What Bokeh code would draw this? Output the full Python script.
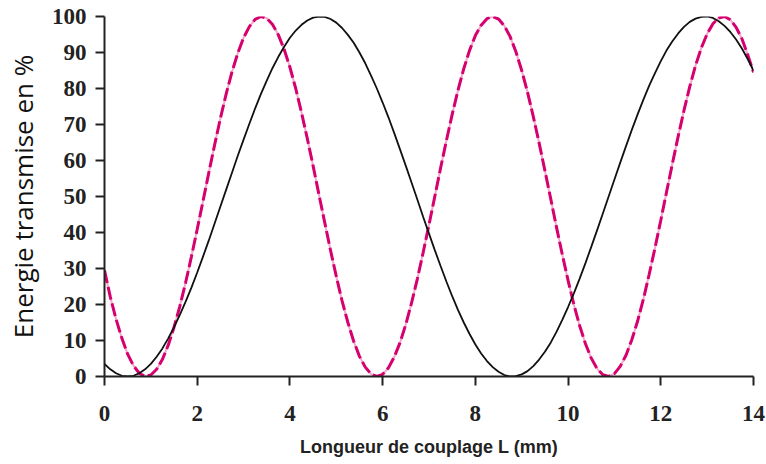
from bokeh.plotting import figure
from bokeh.models import Range1d, FixedTicker
from bokeh.embed import file_html
from bokeh.resources import INLINE

# Longueur de couplage L (mm)
L_mm = [0.0, 0.125, 0.25, 0.375, 0.5, 0.625, 0.75, 0.875, 1.0, 1.125, 1.25, 1.375, 1.5, 1.625, 1.75, 1.875,
        2.0, 2.125, 2.25, 2.375, 2.5, 2.625, 2.75, 2.875, 3.0, 3.125, 3.25, 3.375, 3.5, 3.625, 3.75, 3.875,
        4.0, 4.125, 4.25, 4.375, 4.5, 4.625, 4.75, 4.875, 5.0, 5.125, 5.25, 5.375, 5.5, 5.625, 5.75, 5.875,
        6.0, 6.125, 6.25, 6.375, 6.5, 6.625, 6.75, 6.875, 7.0, 7.125, 7.25, 7.375, 7.5, 7.625, 7.75, 7.875,
        8.0, 8.125, 8.25, 8.375, 8.5, 8.625, 8.75, 8.875, 9.0, 9.125, 9.25, 9.375, 9.5, 9.625, 9.75, 9.875,
        10.0, 10.125, 10.25, 10.375, 10.5, 10.625, 10.75, 10.875, 11.0, 11.125, 11.25, 11.375, 11.5, 11.625,
        11.75, 11.875, 12.0, 12.125, 12.25, 12.375, 12.5, 12.625, 12.75, 12.875, 13.0, 13.125, 13.25, 13.375,
        13.5, 13.625, 13.75, 13.875, 14.0]

# black solid curve (%)
energie_noir = [3.5, 2.0, 0.9, 0.2, 0.0, 0.2, 0.9, 2.0, 3.5, 5.5, 7.8, 10.6, 13.7, 17.1, 20.8, 24.7,
                28.9, 33.3, 37.8, 42.5, 47.2, 51.9, 56.6, 61.3, 65.8, 70.2, 74.5, 78.5, 82.2, 85.7, 88.8, 91.6,
                94.1, 96.1, 97.7, 98.9, 99.7, 100.0, 99.9, 99.3, 98.3, 96.8, 94.9, 92.7, 90.0, 87.0, 83.6, 80.0,
                76.1, 72.0, 67.6, 63.1, 58.5, 53.8, 49.1, 44.3, 39.7, 35.1, 30.7, 26.4, 22.3, 18.5, 15.0, 11.8,
                8.9, 6.4, 4.3, 2.6, 1.3, 0.4, 0.0, 0.1, 0.6, 1.5, 2.9, 4.7, 6.9, 9.4, 12.4, 15.7,
                19.3, 23.1, 27.2, 31.5, 36.0, 40.6, 45.3, 50.0, 54.7, 59.4, 64.0, 68.5, 72.8, 76.9,
                80.8, 84.3, 87.6, 90.6, 93.1, 95.3, 97.1, 98.5, 99.4, 99.9, 100.0, 99.6, 98.7, 97.4,
                95.7, 93.6, 91.1, 88.2, 85.0]

# magenta dashed curve (%)
energie_rose = [29.5, 22.1, 15.9, 10.6, 6.2, 3.0, 0.9, 0.0, 0.4, 2.0, 4.8, 8.7, 13.7, 19.5, 26.1, 33.3,
                40.9, 48.7, 56.6, 64.3, 71.7, 78.5, 84.6, 89.8, 94.1, 97.2, 99.2, 100.0, 99.5, 97.8, 94.9, 90.9,
                85.9, 80.0, 73.3, 66.1, 58.5, 50.6, 42.8, 35.1, 27.8, 21.0, 15.0, 9.8, 5.6, 2.6, 0.7, 0.0,
                0.6, 2.4, 5.4, 9.4, 14.5, 20.5, 27.2, 34.5, 42.2, 50.0, 57.9, 65.5, 72.8, 79.5, 85.5, 90.6,
                94.7, 97.6, 99.4, 100.0, 99.3, 97.4, 94.4, 90.2, 85.0, 79.0, 72.2, 64.9, 57.2, 49.4, 41.5, 33.9,
                26.7, 20.0, 14.1, 9.1, 5.1, 2.2, 0.5, 0.0, 0.8, 2.8, 5.9, 10.2, 15.4, 21.5,
                28.4, 35.7, 43.4, 51.3, 59.1, 66.7, 73.9, 80.5, 86.4, 91.3, 95.2, 98.0, 99.6, 100.0,
                99.1, 97.0, 93.8, 89.4, 84.5]

x_ticks = [0, 2, 4, 6, 8, 10, 12, 14]
y_ticks = [0, 10, 20, 30, 40, 50, 60, 70, 80, 90, 100]

p = figure(frame_width=649, frame_height=360, output_backend="svg", toolbar_location=None,
           x_range=Range1d(0, 14), y_range=Range1d(0, 100),
           min_border_left=104, min_border_right=13, min_border_top=16, min_border_bottom=88)

p.outline_line_color = None
p.xgrid.grid_line_color = None
p.ygrid.grid_line_color = None
p.background_fill_color = "white"
p.border_fill_color = "white"

# magenta curve: pale underline + dashed magenta
p.line(L_mm, energie_rose, line_color="#f3a6cc", line_width=2)
p.line(L_mm, energie_rose, line_color="#d6006f", line_width=3, line_dash="13 4")
# black curve
p.line(L_mm, energie_noir, line_color="#111111", line_width=1.8)

for ax in (p.xaxis[0], p.yaxis[0]):
    ax.axis_line_color = "#222222"
    ax.axis_line_width = 2
    ax.major_tick_line_color = "#222222"
    ax.major_tick_line_width = 2
    ax.major_tick_in = 0
    ax.major_tick_out = 9
    ax.minor_tick_line_color = None
    ax.major_label_text_font = "Liberation Serif"
    ax.major_label_text_font_style = "bold"
    ax.major_label_text_font_size = "23px"
    ax.major_label_text_color = "#222222"

p.xaxis.ticker = FixedTicker(ticks=x_ticks)
p.yaxis.ticker = FixedTicker(ticks=y_ticks)
p.xaxis.major_label_standoff = 20
p.yaxis.major_label_standoff = 9

p.xaxis.axis_label = "Longueur de couplage L (mm)"
p.xaxis.axis_label_text_font = "Liberation Sans"
p.xaxis.axis_label_text_font_style = "bold"
p.xaxis.axis_label_text_font_size = "18px"
p.xaxis.axis_label_text_color = "#222222"
p.xaxis.axis_label_standoff = 13

p.yaxis.axis_label = "Energie transmise en %"
p.yaxis.axis_label_text_font = "Open Sans"
p.yaxis.axis_label_text_font_style = "normal"
p.yaxis.axis_label_text_font_size = "26px"
p.yaxis.axis_label_text_color = "#111111"
p.yaxis.axis_label_standoff = 8

open("out.html", "w").write(file_html(p, INLINE))
